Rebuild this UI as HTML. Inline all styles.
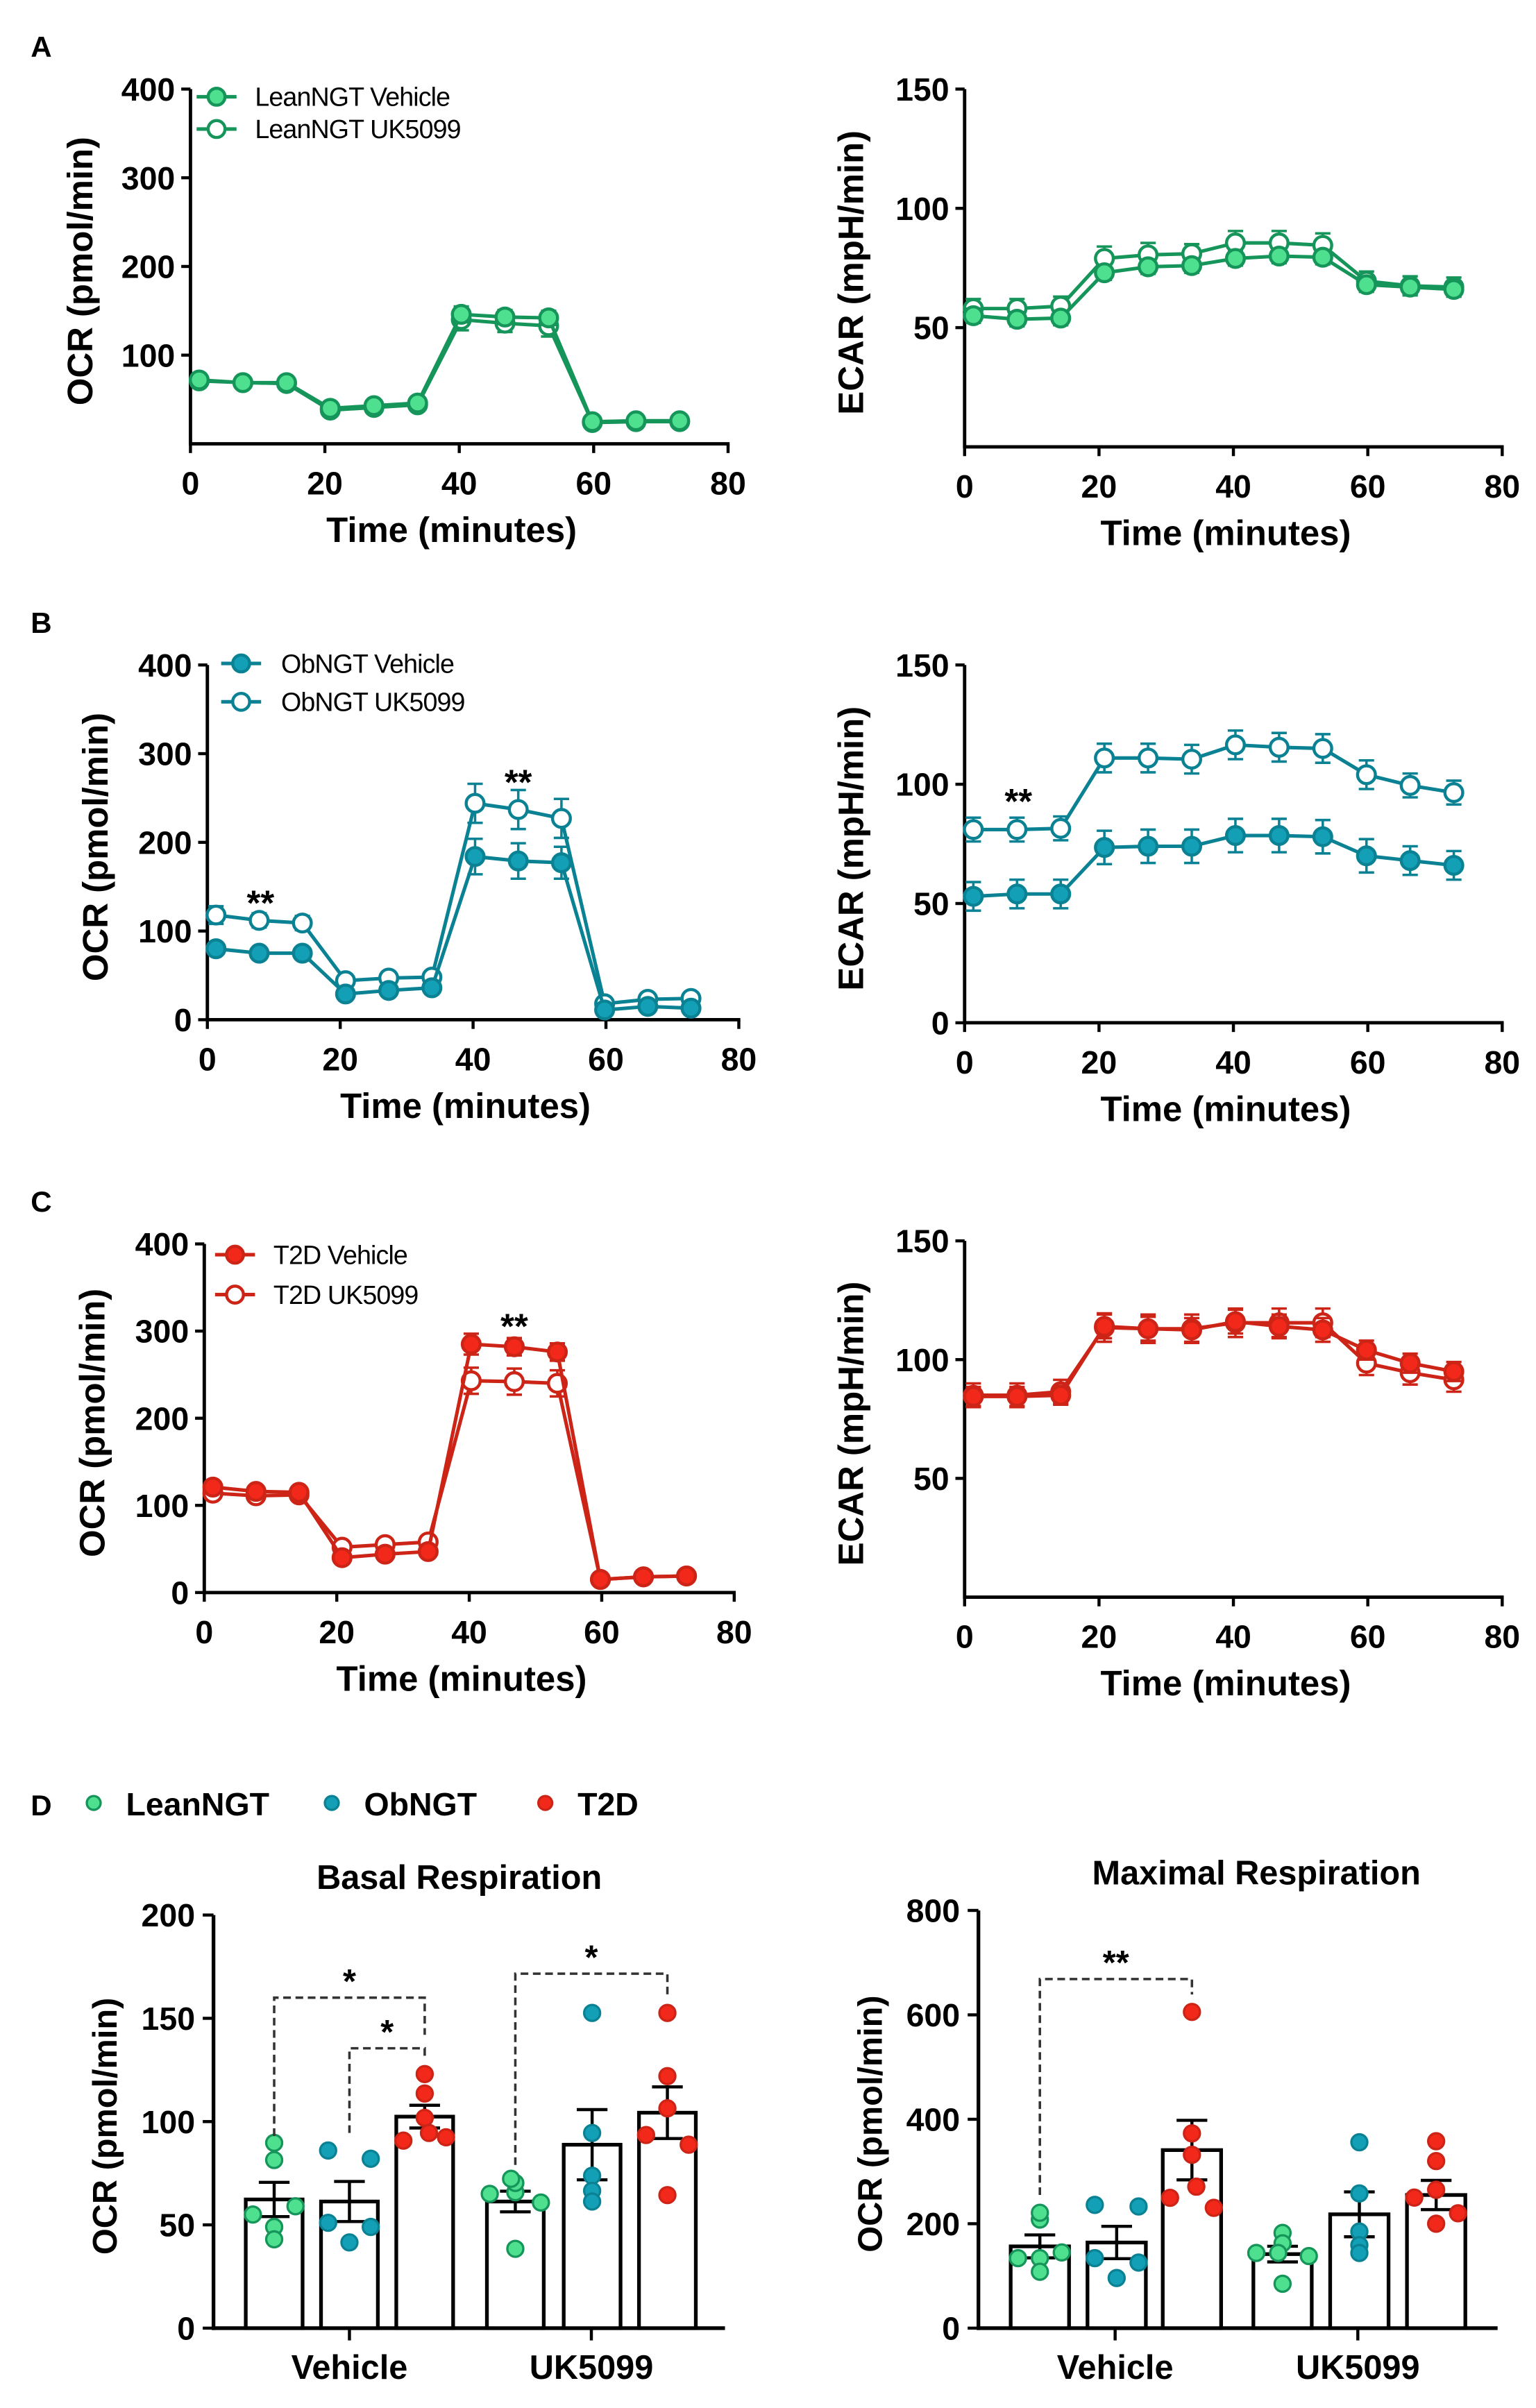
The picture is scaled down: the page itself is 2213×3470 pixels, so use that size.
<!DOCTYPE html>
<html><head><meta charset="utf-8"><style>
html,body{margin:0;padding:0;background:#fff;}
svg{display:block;}
text{font-family:"Liberation Sans",Arial,sans-serif;}
</style></head><body>
<svg id="fig" xmlns="http://www.w3.org/2000/svg" width="2213" height="3470" viewBox="0 0 1000 1568">
<rect x="0" y="0" width="1000" height="1568" fill="#fff"/>
<g id="root"></g>
</svg>
<script>
// ---------- DATA ----------
const times=[1.3,7.8,14.3,20.8,27.3,33.8,40.3,46.8,53.3,59.8,66.3,72.8];
const xTicks=[0,20,40,60,80];
const ocrTicksA=[100,200,300,400];
const ocrTicksBC=[0,100,200,300,400];
const ecarTicksAC=[50,100,150];
const ecarTicksB=[0,50,100,150];

const leanOcrVeh=[72,69,69,40,43,46,146,143,142,25,26,26];
const leanOcrVehErr=[4,3,3,3,3,3,9,8,8,2,2,2];
const leanOcrUk=[71,69,68,38,41,44,140,136,133,24,25,25];
const leanOcrUkErr=[4,3,3,3,3,3,12,10,12,2,2,2];
const leanEcarVeh=[55,53.5,54,73,75.5,76,79,80,79.5,68,67,66];
const leanEcarVehErr=[3,3,3,3,3,3,3,3,3,3,3,3];
const leanEcarUk=[58,58,59,79,80.5,81,85.5,85.5,84.5,69.5,67.5,67];
const leanEcarUkErr=[4,4,4,5,5,4,5,5,5,4,4,4];

const obOcrVeh=[80,75,75,29,33,36,184,179,177,11,15,13];
const obOcrVehErr=[5,4,4,3,3,3,20,20,18,2,2,2];
const obOcrUk=[118,112,109,44,47,48,244,237,227,18,23,24];
const obOcrUkErr=[10,8,8,4,4,4,22,22,22,3,3,3];
const obEcarVeh=[53,54,54,73.5,74,74,78.5,78.5,78,70,68,66];
const obEcarVehErr=[6,6,6,7,7,7,7,7,7,7,6,6];
const obEcarUk=[81,81,81.5,111,111,110.5,116.5,115.5,115,104,99.5,96.5];
const obEcarUkErr=[5,5,5,6,6,6,6,6,6,6,5,5];

const t2dOcrVeh=[121,116,115,40,44,47,285,282,276,15,18,19];
const t2dOcrVehErr=[5,4,4,4,4,4,12,10,10,2,2,2];
const t2dOcrUk=[114,111,112,52,55,58,243,242,240,15,18,19];
const t2dOcrUkErr=[5,4,4,4,4,4,15,15,15,2,2,2];
const t2dEcarVeh=[84.5,84.5,85,114,113,112.5,116,114,112.5,104,98.5,95];
const t2dEcarVehErr=[4,4,4,5,5,5,5,5,5,4,4,4];
const t2dEcarUk=[85,85,86.5,113.5,113,113,115.5,115.5,115.5,98.5,94.5,91.5];
const t2dEcarUkErr=[5,5,5,6,6,6,6,6,6,5,5,5];

const barGroups=["Vehicle","UK5099"];
const basalTicks=[0,50,100,150,200];
const basalMeans=[62.3,61.3,102.4,61.3,88.8,104.3];
const basalSem=[8.3,9.7,5.5,5,17,12.5];
const basalPoints=[[89.7,81.4,59,55,49,43],[86,82,51,49,41.5],[123,113.6,101.8,94.5,90.8,92.4],[65.8,70.3,72.3,65,60.8,38.4],[152.6,94.5,73.8,66.5,61.3],[152.6,122,106.4,93.5,88.8,64.4]];
const maxTicks=[0,200,400,600,800];
const maxMeans=[156.6,164,341,141.8,218,255];
const maxSem=[22,31,57,15,43,28];
const maxPoints=[[208,221,145,134,134,108],[236,233,134,125.6,96],[605.6,373,332,271,249.6,230.4],[182.4,162.5,144,144,138,85],[356,258,185,159,144],[358,320,265,250,220,200]];

// ---------- helpers ----------
const NS="http://www.w3.org/2000/svg";
const root=document.getElementById('root');
function mk(tag,attrs,parent,txt){const e=document.createElementNS(NS,tag);for(const k in attrs)e.setAttribute(k,attrs[k]);if(txt!==undefined)e.textContent=txt;(parent||root).appendChild(e);return e;}

const GREEN={line:"#16955a",fill:"#4fe08f"};
const TEAL={line:"#0b8294",fill:"#13a0b6"};
const RED={line:"#cc2416",fill:"#f2291a"};

function panelAxes(g,c,name){
  const sx=v=>c.x0+(v/80)*(c.x1-c.x0);
  const sy=v=>c.y0-(v/c.vmax)*(c.y0-c.yTop);
  const yAxis=mk('line',{x1:c.x0,y1:c.yTop,x2:c.x0,y2:c.y0+1,stroke:"#000","stroke-width":2.2},g);
  
  
  const xAxis=mk('line',{x1:c.x0-1,y1:c.y0,x2:c.x1+1,y2:c.y0,stroke:"#000","stroke-width":2.2},g);
  
  
  c.yt.forEach(v=>{
    mk('line',{x1:c.x0-6,y1:sy(v),x2:c.x0,y2:sy(v),stroke:"#000","stroke-width":2},g);
    const t=mk('text',{x:c.x0-10,y:sy(v)+7.5,"text-anchor":"end","font-size":21,"font-weight":"bold"},g,String(v));
    
    
  });
  xTicks.forEach(v=>{
    mk('line',{x1:sx(v),y1:c.y0,x2:sx(v),y2:c.y0+6,stroke:"#000","stroke-width":2},g);
    const t=mk('text',{x:sx(v),y:c.y0+33,"text-anchor":"middle","font-size":21,"font-weight":"bold"},g,String(v));
    
    
  });
  const xt=mk('text',{x:(c.x0+c.x1)/2-5,y:c.y0+64,"text-anchor":"middle","font-size":23,"font-weight":"bold"},g,"Time (minutes)");
  
  
  const yt=mk('text',{x:0,y:0,"text-anchor":"middle","font-size":23,"font-weight":"bold",transform:`translate(${c.ytx},${(c.yTop+c.y0)/2+3}) rotate(-90)`},g,c.ytitle);
  
  
  return {sx,sy};
}
function series(g,sc,vals,errs,col,open,name){
  const sg=mk('g',{},g);
  
  
  vals.forEach((v,i)=>{
    const x=sc.sx(times[i]);
    mk('line',{x1:x,y1:sc.sy(v+errs[i]),x2:x,y2:sc.sy(v-errs[i]),stroke:col.line,"stroke-width":1.6},sg);
    mk('line',{x1:x-5,y1:sc.sy(v+errs[i]),x2:x+5,y2:sc.sy(v+errs[i]),stroke:col.line,"stroke-width":1.6},sg);
    mk('line',{x1:x-5,y1:sc.sy(v-errs[i]),x2:x+5,y2:sc.sy(v-errs[i]),stroke:col.line,"stroke-width":1.6},sg);
  });
  const pts=vals.map((v,i)=>sc.sx(times[i])+","+sc.sy(v)).join(" ");
  const pl=mk('polyline',{points:pts,fill:"none",stroke:col.line,"stroke-width":2.3},sg);
  
  
  vals.forEach((v,i)=>{
    const c=mk('circle',{cx:sc.sx(times[i]),cy:sc.sy(v),r:5.8,fill:open?"#fff":col.fill,stroke:col.line,"stroke-width":2},sg);
    
    
  });
}
function legendLine(g,x,y,tx,label,col,open,name){
  const lg=mk('g',{},g);
  
  
  mk('line',{x1:x-13,y1:y,x2:x+13,y2:y,stroke:col.line,"stroke-width":2.3},lg);
  mk('circle',{cx:x,cy:y,r:5.5,fill:open?"#fff":col.fill,stroke:col.line,"stroke-width":2},lg);
  mk('text',{x:tx,y:y+6,"font-size":17,"letter-spacing":"-0.4"},lg,label);
}
function label(x,y,s,size,name,anchor){
  const t=mk('text',{x:x,y:y,"font-size":size,"font-weight":"bold","text-anchor":anchor||"start"},root,s);
  
  
  return t;
}
function linePanel(c,name,a,aErr,b,bErr,col,leg){
  const g=mk('g',{});
  
  
  const sc=panelAxes(g,c,name);
  series(g,sc,b,bErr,col,true,name+'-uk5099-series');
  series(g,sc,a,aErr,col,false,name+'-vehicle-series');
  if(leg){
    legendLine(g,leg.x,leg.y1,leg.tx,leg.l1,col,false,name+'-legend-vehicle');
    legendLine(g,leg.x,leg.y2,leg.tx,leg.l2,col,true,name+'-legend-uk5099');
  }
  return sc;
}

// ---------- panel labels ----------
label(20,37,"A",19,"panel-label-a");
label(20,412,"B",19,"panel-label-b");
label(20,789,"C",19,"panel-label-c");

// ---------- Row A ----------
linePanel({x0:124,x1:474,yTop:58,y0:289,vmax:400,yt:ocrTicksA,ytitle:"OCR (pmol/min)",ytx:60},"lean-ocr-chart",
  leanOcrVeh,leanOcrVehErr,leanOcrUk,leanOcrUkErr,GREEN,{x:141,tx:166,y1:63,y2:84,l1:"LeanNGT Vehicle",l2:"LeanNGT UK5099"});
linePanel({x0:628,x1:978,yTop:58,y0:291,vmax:150,yt:ecarTicksAC,ytitle:"ECAR (mpH/min)",ytx:562},"lean-ecar-chart",
  leanEcarVeh,leanEcarVehErr,leanEcarUk,leanEcarUkErr,GREEN,null);

// ---------- Row B ----------
const sbO=linePanel({x0:135,x1:481,yTop:433,y0:664,vmax:400,yt:ocrTicksBC,ytitle:"OCR (pmol/min)",ytx:70},"ob-ocr-chart",
  obOcrVeh,obOcrVehErr,obOcrUk,obOcrUkErr,TEAL,{x:157,tx:183,y1:432,y2:457,l1:"ObNGT Vehicle",l2:"ObNGT UK5099"});
label(sbO.sx(8),sbO.sy(132)+8,"**",23,"ob-ocr-basal-significance","middle");
label(sbO.sx(46.8),sbO.sy(268)+8,"**",23,"ob-ocr-maximal-significance","middle");
const sbE=linePanel({x0:628,x1:978,yTop:433,y0:666,vmax:150,yt:ecarTicksB,ytitle:"ECAR (mpH/min)",ytx:562},"ob-ecar-chart",
  obEcarVeh,obEcarVehErr,obEcarUk,obEcarUkErr,TEAL,null);
label(sbE.sx(8),sbE.sy(93)+8,"**",23,"ob-ecar-significance","middle");

// ---------- Row C ----------
const scO=linePanel({x0:133,x1:478,yTop:810,y0:1037,vmax:400,yt:ocrTicksBC,ytitle:"OCR (pmol/min)",ytx:68},"t2d-ocr-chart",
  t2dOcrVeh,t2dOcrVehErr,t2dOcrUk,t2dOcrUkErr,RED,{x:153,tx:178,y1:817,y2:843,l1:"T2D Vehicle",l2:"T2D UK5099"});
label(scO.sx(46.8),scO.sy(306)+8,"**",23,"t2d-ocr-significance","middle");
linePanel({x0:628,x1:978,yTop:808,y0:1040,vmax:150,yt:ecarTicksAC,ytitle:"ECAR (mpH/min)",ytx:562},"t2d-ecar-chart",
  t2dEcarVeh,t2dEcarVehErr,t2dEcarUk,t2dEcarUkErr,RED,null);

// ---------- Row D legend ----------
label(20,1182,"D",19,"panel-label-d");
const dl=mk('g',{});


[[GREEN,61,82,"LeanNGT"],[TEAL,216,237,"ObNGT"],[RED,355,376,"T2D"]].forEach(e=>{
  const it=mk('g',{},dl);
  
  
  mk('circle',{cx:e[1],cy:1174,r:4.5,fill:e[0].fill,stroke:e[0].line,"stroke-width":1.5},it);
  mk('text',{x:e[2],y:1182,"font-size":21,"font-weight":"bold"},it,e[3]);
});

// ---------- bar charts ----------
const groupCols=[GREEN,TEAL,RED,GREEN,TEAL,RED];
const jitter=[[0,0,0.5,-0.5,0,0],[-0.5,0.5,-0.5,0.5,0],[0,0,0,0.1,-0.5,0.5],[0,0,-0.1,-0.6,0.6,0],[0,0,0,0,0],[0,0,0,-0.5,0.5,0]];
function barChart(c,name,means,sem,points,ticks,brackets){
  const g=mk('g',{});
  
  
  const sy=v=>c.y0-(v/c.vmax)*(c.y0-c.yTop);
  const t=mk('text',{x:c.tx,y:c.yTop-17,"text-anchor":"middle","font-size":22,"font-weight":"bold"},g,c.title);
  
  
  mk('line',{x1:c.x0,y1:c.yTop,x2:c.x0,y2:c.y0+1.2,stroke:"#000","stroke-width":2.4},g);
  mk('line',{x1:c.x0-1,y1:c.y0,x2:c.xEnd,y2:c.y0,stroke:"#000","stroke-width":2.4},g);
  ticks.forEach(v=>{
    mk('line',{x1:c.x0-7,y1:sy(v),x2:c.x0,y2:sy(v),stroke:"#000","stroke-width":2},g);
    const tl=mk('text',{x:c.x0-12,y:sy(v)+7.5,"text-anchor":"end","font-size":21,"font-weight":"bold"},g,String(v));
    
    
  });
  const yt=mk('text',{x:0,y:0,"text-anchor":"middle","font-size":22,"font-weight":"bold",transform:`translate(${c.ytx},${(c.yTop+c.y0)/2+3}) rotate(-90)`},g,"OCR (pmol/min)");
  
  
  barGroups.forEach((lab,gi)=>{
    const gx=c.groupX[gi];
    mk('line',{x1:gx,y1:c.y0,x2:gx,y2:c.y0+8,stroke:"#000","stroke-width":2},g);
    const gl=mk('text',{x:gx,y:c.y0+33,"text-anchor":"middle","font-size":22,"font-weight":"bold"},g,lab);
    
    
  });
  means.forEach((m,i)=>{
    const bx=c.barX[i], w=c.bw, cx=bx+w/2;
    const r=mk('rect',{x:bx,y:sy(m),width:w,height:c.y0-sy(m),fill:"#fff",stroke:"#000","stroke-width":2.4},g);
    
    
    mk('line',{x1:cx,y1:sy(m+sem[i]),x2:cx,y2:sy(m-sem[i]),stroke:"#000","stroke-width":2},g);
    mk('line',{x1:cx-10,y1:sy(m+sem[i]),x2:cx+10,y2:sy(m+sem[i]),stroke:"#000","stroke-width":2},g);
    mk('line',{x1:cx-10,y1:sy(m-sem[i]),x2:cx+10,y2:sy(m-sem[i]),stroke:"#000","stroke-width":2},g);
    points[i].forEach((p,j)=>{
      const d=mk('circle',{cx:cx+jitter[i][j]*w*0.75,cy:sy(p),r:5.2,fill:groupCols[i].fill,stroke:groupCols[i].line,"stroke-width":1.5},g);
      
      
    });
  });
  brackets.forEach(b=>{
    const xa=c.barX[b.a]+c.bw/2, xb=c.barX[b.b]+c.bw/2;
    const p=mk('polyline',{points:`${xa},${sy(b.la)} ${xa},${sy(b.y)} ${xb},${sy(b.y)} ${xb},${sy(b.lb)}`,fill:"none",stroke:"#333","stroke-width":1.6,"stroke-dasharray":"5,3"},g);
    
    
    const s=mk('text',{x:(xa+xb)/2,y:sy(b.y)-3,"text-anchor":"middle","font-size":22,"font-weight":"bold"},g,b.s);
    
    
  });
}
barChart({x0:139,xEnd:472,yTop:1247,y0:1516,vmax:200,bw:37,barX:[160,209,258,317,367,416],groupX:[227.5,385],title:"Basal Respiration",tx:299,ytx:76},
  "basal-respiration-chart",basalMeans,basalSem,basalPoints,basalTicks,
  [{a:0,b:2,y:160,la:93,lb:142,s:"*"},{a:1,b:2,y:135.5,la:94.5,lb:130,s:"*"},{a:3,b:5,y:171.6,la:79,lb:160,s:"*"}]);
barChart({x0:637,xEnd:975,yTop:1244,y0:1516,vmax:800,bw:38,barX:[658,708,757,816,866,916],groupX:[726,884],title:"Maximal Respiration",tx:818,ytx:574},
  "maximal-respiration-chart",maxMeans,maxSem,maxPoints,maxTicks,
  [{a:0,b:2,y:668.6,la:255,lb:639,s:"**"}]);
</script>
</body></html>
